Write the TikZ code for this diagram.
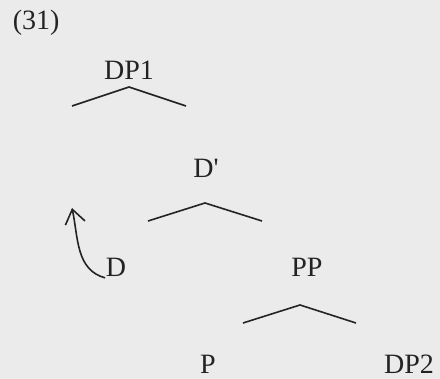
\documentclass[tikz,border=0pt]{standalone}
\usepackage{fontspec}
\setmainfont{Liberation Serif}
\usetikzlibrary{arrows.meta}
\definecolor{paper}{RGB}{235,235,235}
\definecolor{ink}{RGB}{35,35,35}
\begin{document}
\begin{tikzpicture}[x=0.5pt,y=-0.5pt,line width=0.8pt]
\tikzstyle{every node}+=[inner sep=0pt,anchor=base,text=ink,font=\fontsize{14}{17}\selectfont]
\fill [paper] (0,0) rectangle (440,379);
\draw (12,30) node [anchor=base west] (ex) {(31)};
\draw (129,80) node (dp1) {DP1};
\draw [ink] (72,106) -- (129,87) -- (186,106);
\draw (206,178) node (dbar) {D\textquotesingle};
\draw [ink] (148,221) -- (205,203) -- (262,221);
\draw (116,277) node (d) {D};
\draw (307,277) node (pp) {PP};
\draw [ink] (243,323) -- (300,305) -- (356,323);
\draw (208,374) node (p) {P};
\draw (409,374) node (dp2) {DP2};
\coordinate (tip) at (72,208);
\draw [ink,-{Straight Barb[length=7pt,width=10pt]}] (d.south west) to [out=165,in=-78] (tip);
\end{tikzpicture}
\end{document}
